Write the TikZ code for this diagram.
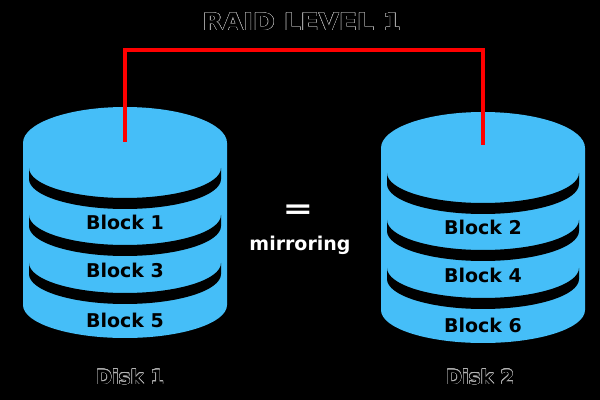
\documentclass[tikz,border=0pt]{standalone}
\usepackage{fontspec}
\setmainfont{DejaVu Sans}
\usepackage{contour}
\contourlength{0.3pt}
\contournumber{16}
\definecolor{diskblue}{HTML}{45BEF8}
\newcommand{\otext}[1]{\contour{gray!60}{\textcolor{black}{#1}}}
\begin{document}
\begin{tikzpicture}[x=0.025cm,y=-0.025cm,
  lbl/.style={font=\bfseries\fontsize{13.5}{15}\selectfont,text=black},
  olbl/.style={font=\bfseries\fontsize{14}{16}\selectfont},
  wlbl/.style={font=\bfseries\fontsize{13.5}{15}\selectfont,text=white}]
\fill[black] (0,0) rectangle (600,400);
\useasboundingbox (0,0) rectangle (600,400);
\newcommand{\cyl}[3]{% cx, dy, name
 \begin{scope}[shift={(#1,#2)}]
  \fill[diskblue] (-102,143) -- (-102,305) arc[start angle=180,end angle=0,x radius=102,y radius=33]
    -- (102,143) arc[start angle=0,end angle=-180,x radius=102,y radius=36] -- cycle;
  \foreach \a in {168,215,263}{
   \fill[black] (-96,\a) arc[start angle=180,end angle=0,x radius=96,y radius=30]
     -- (96,\a+11) arc[start angle=0,end angle=180,x radius=96,y radius=30] -- cycle;}
 \end{scope}}
\cyl{125}{0}{d1}
\cyl{483}{5}{d2}
\node[lbl] (b1) at (125,222) {Block 1};
\node[lbl] (b3) at (125,270) {Block 3};
\node[lbl] (b5) at (125,320) {Block 5};
\node[lbl] (b2) at (483,227) {Block 2};
\node[lbl] (b4) at (483,275) {Block 4};
\node[lbl] (b6) at (483,325) {Block 6};
\coordinate (t1) at (125,142);
\coordinate (t2) at (483,145);
\draw[red,line width=2.2pt] (t1) -- (125,50) -- (483,50) -- (t2);
\node[font=\bfseries\fontsize{17}{19}\selectfont,xscale=1.1] (title) at (302,22) {\otext{RAID LEVEL 1}};
\node[olbl] (dk1) at (130,377) {\otext{Disk 1}};
\node[olbl] (dk2) at (480,377) {\otext{Disk 2}};
\node[wlbl,font=\bfseries\fontsize{20}{20}\selectfont,xscale=1.3] (eq) at (298,212) {=};
\node[wlbl] (mir) at (300,245) {mirroring};
\end{tikzpicture}
\end{document}
